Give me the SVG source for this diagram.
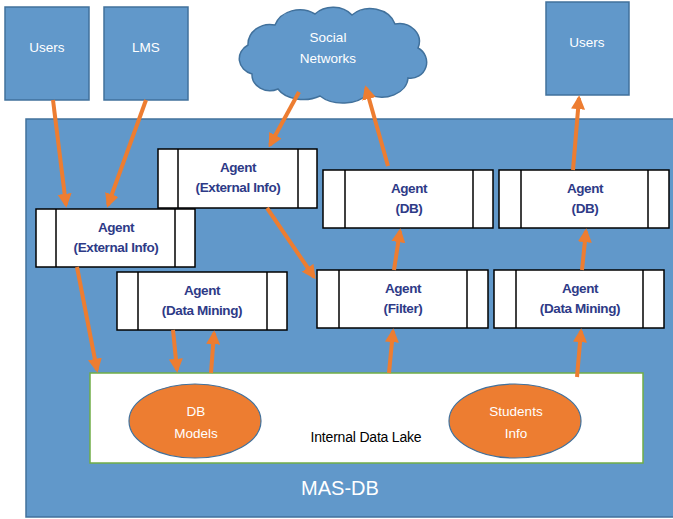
<svg xmlns="http://www.w3.org/2000/svg" width="673" height="519" viewBox="0 0 673 519">
<defs>
<style>
.blue{fill:#6198CA;stroke:#41719C;stroke-width:1.5}
.agent rect{fill:#fff;stroke:#000;stroke-width:1.5}
.agent line{stroke:#000;stroke-width:1.5}
.at{font-family:"Liberation Sans",Arial,sans-serif;font-weight:bold;font-size:13.5px;fill:#2E3A87;text-anchor:middle;letter-spacing:-0.4px}
.wt{font-family:"Liberation Sans",Arial,sans-serif;font-size:13.5px;fill:#fff;text-anchor:middle}
.conn line{stroke:#ED7D31;stroke-width:4;marker-end:url(#ah)}
</style>
<marker id="ah" viewBox="0 0 10 10" refX="8" refY="5" markerWidth="3.5" markerHeight="3.5" orient="auto" markerUnits="strokeWidth">
<path d="M0,0 L10,5 L0,10 Z" fill="#ED7D31"/>
</marker>
</defs>
<rect width="673" height="519" fill="#fff"/>
<g id="mas-db">
<rect class="blue" x="26" y="119" width="660" height="398"/>
<text x="340" y="495" class="wt" style="font-size:20px">MAS-DB</text>
</g>
<g id="users-left">
<rect class="blue" x="5" y="7" width="84" height="93"/>
<text x="47" y="52" class="wt">Users</text>
</g>
<g id="lms">
<rect class="blue" x="104" y="7" width="84" height="93"/>
<text x="146" y="52" class="wt">LMS</text>
</g>
<g id="users-right">
<rect class="blue" x="546" y="2" width="83" height="93"/>
<text x="587" y="47" class="wt">Users</text>
</g>
<g id="social-networks">
<path class="blue" d="M252,74 A18,16 0 0 1 248,45 A22,20 0 0 1 275,25 A26,22 0 0 1 315,14 A24,20 0 0 1 352,15 A26,22 0 0 1 395,24 A20,18 0 0 1 418,48 A16,16 0 0 1 408,78 A26,20 0 0 1 368,94 A30,20 0 0 1 320,96 A28,18 0 0 1 278,89 A18,16 0 0 1 252,74 Z"/>
<text x="328" y="42" class="wt">Social</text>
<text x="328" y="63" class="wt">Networks</text>
</g>
<g id="lake">
<rect x="90" y="373" width="553" height="90" fill="#fff" stroke="#70AD47" stroke-width="1.5"/>
<text x="366" y="442" font-family="Liberation Sans, Arial, sans-serif" font-size="14px" fill="#000" text-anchor="middle" letter-spacing="-0.2px">Internal Data Lake</text>
</g>
<g id="db-models">
<ellipse cx="195" cy="421" rx="66" ry="37" fill="#ED7D31" stroke="#41719C" stroke-width="1.2"/>
<text x="196" y="416" class="wt">DB</text>
<text x="196" y="438" class="wt">Models</text>
</g>
<g id="students-info">
<ellipse cx="515" cy="421" rx="66" ry="37" fill="#ED7D31" stroke="#41719C" stroke-width="1.2"/>
<text x="516" y="416" class="wt">Students</text>
<text x="516" y="438" class="wt">Info</text>
</g>
<g id="agent-ext-left" class="agent">
<rect x="36" y="209" width="159" height="58"/>
<line x1="56" y1="209" x2="56" y2="267"/><line x1="175" y1="209" x2="175" y2="267"/>
<text x="116" y="232" class="at">Agent</text>
<text x="116" y="252" class="at">(External Info)</text>
</g>
<g id="agent-ext-top" class="agent">
<rect x="158" y="149" width="159" height="59"/>
<line x1="178" y1="149" x2="178" y2="208"/><line x1="298" y1="149" x2="298" y2="208"/>
<text x="238" y="172" class="at">Agent</text>
<text x="238" y="192" class="at">(External Info)</text>
</g>
<g id="agent-dm-left" class="agent">
<rect x="117" y="272" width="170" height="58"/>
<line x1="138" y1="272" x2="138" y2="330"/><line x1="267" y1="272" x2="267" y2="330"/>
<text x="202" y="295" class="at">Agent</text>
<text x="202" y="315" class="at">(Data Mining)</text>
</g>
<g id="agent-db1" class="agent">
<rect x="323" y="170" width="170" height="58"/>
<line x1="345" y1="170" x2="345" y2="228"/><line x1="473" y1="170" x2="473" y2="228"/>
<text x="409" y="193" class="at">Agent</text>
<text x="409" y="213" class="at">(DB)</text>
</g>
<g id="agent-db2" class="agent">
<rect x="499" y="170" width="170" height="58"/>
<line x1="521" y1="170" x2="521" y2="228"/><line x1="648" y1="170" x2="648" y2="228"/>
<text x="585" y="193" class="at">Agent</text>
<text x="585" y="213" class="at">(DB)</text>
</g>
<g id="agent-filter" class="agent">
<rect x="317" y="270" width="171" height="58"/>
<line x1="339" y1="270" x2="339" y2="328"/><line x1="467" y1="270" x2="467" y2="328"/>
<text x="403" y="293" class="at">Agent</text>
<text x="403" y="313" class="at">(Filter)</text>
</g>
<g id="agent-dm-right" class="agent">
<rect x="494" y="270" width="170" height="58"/>
<line x1="516" y1="270" x2="516" y2="328"/><line x1="643" y1="270" x2="643" y2="328"/>
<text x="580" y="293" class="at">Agent</text>
<text x="580" y="313" class="at">(Data Mining)</text>
</g>
<g id="connectors" class="conn">
<line x1="53" y1="100" x2="66" y2="205"/>
<line x1="146" y1="100" x2="108" y2="205"/>
<line x1="299" y1="92" x2="270" y2="145"/>
<line x1="388" y1="166" x2="366" y2="88"/>
<line x1="573" y1="170" x2="579" y2="98"/>
<line x1="267" y1="208" x2="314" y2="277"/>
<line x1="394" y1="270" x2="400" y2="231"/>
<line x1="582" y1="270" x2="586" y2="231"/>
<line x1="77" y1="267" x2="97" y2="370"/>
<line x1="173" y1="330" x2="177" y2="370"/>
<line x1="211" y1="373" x2="214" y2="333"/>
<line x1="389" y1="373" x2="393" y2="331"/>
<line x1="577" y1="377" x2="581" y2="331"/>
</g>
</svg>
